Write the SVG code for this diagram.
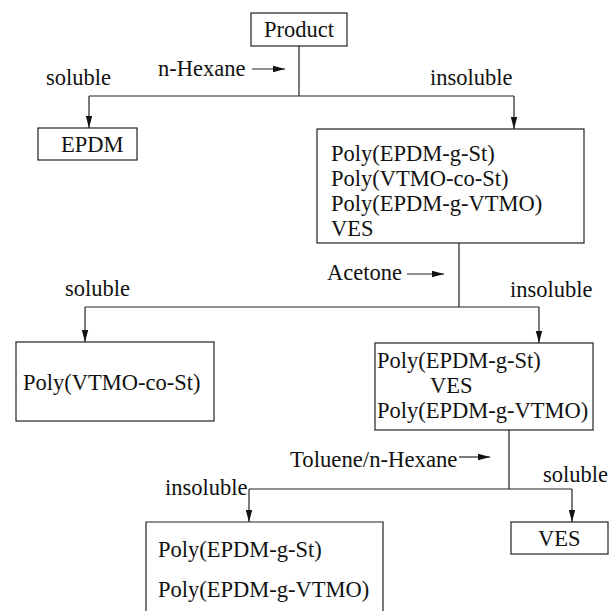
<svg xmlns="http://www.w3.org/2000/svg" width="612" height="611" viewBox="0 0 612 611" font-family="Liberation Serif, Times New Roman, Times, serif">
<defs>
<marker id="ah" viewBox="0 0 12 8" refX="12" refY="4" markerWidth="12" markerHeight="8" markerUnits="userSpaceOnUse" orient="auto">
<path d="M0,0.8 L12,4 L0,7.2 Z" fill="#111"/>
</marker>
<style>
text{font-size:22.5px;fill:#111}
.b{fill:#fff;stroke:#222;stroke-width:1.2}
.c{fill:none;stroke:#222;stroke-width:1.2}
</style>
</defs>
<rect width="612" height="611" fill="#fff"/>
<g id="connectors">
<path class="c" d="M299,46 V96 M89,96 H514"/>
<path class="c" d="M89,96 V128" marker-end="url(#ah)"/>
<path class="c" d="M514,96 V129" marker-end="url(#ah)"/>
<path class="c" d="M252,69 H285" marker-end="url(#ah)"/>
<path class="c" d="M459,243 V307 M85,307 H539"/>
<path class="c" d="M85,307 V342" marker-end="url(#ah)"/>
<path class="c" d="M539,307 V343" marker-end="url(#ah)"/>
<path class="c" d="M407,274 H444" marker-end="url(#ah)"/>
<path class="c" d="M509,430 V489 M249,489 H572"/>
<path class="c" d="M249,489 V522" marker-end="url(#ah)"/>
<path class="c" d="M572,489 V522" marker-end="url(#ah)"/>
<path class="c" d="M459,457 H490" marker-end="url(#ah)"/>
</g>
<g id="labels" font-family="Liberation Serif, serif">
<text x="158" y="76" textLength="87.5" lengthAdjust="spacingAndGlyphs">n-Hexane</text>
<text x="46" y="85" textLength="65" lengthAdjust="spacingAndGlyphs">soluble</text>
<text x="430" y="85" textLength="82.5" lengthAdjust="spacingAndGlyphs">insoluble</text>
<text x="327" y="280" textLength="75" lengthAdjust="spacingAndGlyphs">Acetone</text>
<text x="65" y="296" textLength="65" lengthAdjust="spacingAndGlyphs">soluble</text>
<text x="510" y="297" textLength="82.5" lengthAdjust="spacingAndGlyphs">insoluble</text>
<text x="290" y="467" textLength="167.4" lengthAdjust="spacingAndGlyphs">Toluene/n-Hexane</text>
<text x="543" y="482" textLength="65" lengthAdjust="spacingAndGlyphs">soluble</text>
<text x="165" y="495" textLength="82.5" lengthAdjust="spacingAndGlyphs">insoluble</text>
</g>
<g id="product">
<rect class="b" x="251" y="13" width="96" height="33"/>
<text x="264" y="37" textLength="70" lengthAdjust="spacingAndGlyphs">Product</text>
</g>
<g id="epdm">
<rect class="b" x="38" y="128" width="99" height="32"/>
<text x="61" y="152" textLength="62.5" lengthAdjust="spacingAndGlyphs">EPDM</text>
</g>
<g id="insoluble1">
<rect class="b" x="317" y="129" width="267" height="114"/>
<text x="331" y="161" textLength="163.8" lengthAdjust="spacingAndGlyphs">Poly(EPDM-g-St)</text>
<text x="331" y="186" textLength="177.5" lengthAdjust="spacingAndGlyphs">Poly(VTMO-co-St)</text>
<text x="331" y="211" textLength="211.2" lengthAdjust="spacingAndGlyphs">Poly(EPDM-g-VTMO)</text>
<text x="331" y="236" textLength="42.5" lengthAdjust="spacingAndGlyphs">VES</text>
</g>
<g id="soluble2">
<rect class="b" x="16" y="342" width="198" height="79"/>
<text x="23" y="390" textLength="177.5" lengthAdjust="spacingAndGlyphs">Poly(VTMO-co-St)</text>
</g>
<g id="insoluble2">
<rect class="b" x="375" y="343" width="218" height="87"/>
<text x="377" y="368" textLength="163.8" lengthAdjust="spacingAndGlyphs">Poly(EPDM-g-St)</text>
<text x="430" y="393" textLength="42.5" lengthAdjust="spacingAndGlyphs">VES</text>
<text x="377" y="418" textLength="211.2" lengthAdjust="spacingAndGlyphs">Poly(EPDM-g-VTMO)</text>
</g>
<g id="insoluble3">
<path class="b" d="M146,612 V522 H383 V612"/>
<text x="158" y="557" textLength="163.8" lengthAdjust="spacingAndGlyphs">Poly(EPDM-g-St)</text>
<text x="158" y="597" textLength="211.2" lengthAdjust="spacingAndGlyphs">Poly(EPDM-g-VTMO)</text>
</g>
<g id="ves">
<rect class="b" x="511" y="522" width="97" height="32"/>
<text x="538" y="546" textLength="42.5" lengthAdjust="spacingAndGlyphs">VES</text>
</g>
</svg>
